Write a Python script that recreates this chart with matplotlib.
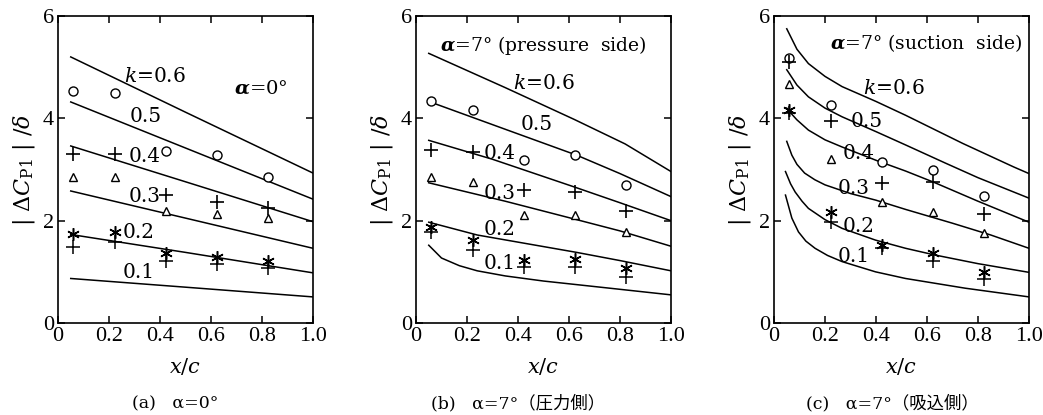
import matplotlib
matplotlib.use('Agg')
import matplotlib.pyplot as plt

plt.rcParams['font.family'] = ['DejaVu Serif', 'Noto Sans CJK JP']
plt.rcParams['mathtext.fontset'] = 'dejavuserif'

# ---------------- data ----------------
x_meas = [0.06, 0.225, 0.425, 0.625, 0.825]
k_values = ["0.6", "0.5", "0.4", "0.3", "0.2", "0.1"]
x_ticks = [0, 0.2, 0.4, 0.6, 0.8, 1.0]
x_ticklabels = ["0", "0.2", "0.4", "0.6", "0.8", "1.0"]
y_ticks = [0, 2, 4, 6]

# panel (a) alpha = 0
a_curve_x = [0.05, 0.5, 1.0]
a_k06 = [5.20, 4.12, 2.93]
a_k05 = [4.32, 3.42, 2.42]
a_k04 = [3.46, 2.76, 1.98]
a_k03 = [2.58, 2.05, 1.46]
a_k02 = [1.73, 1.38, 0.98]
a_k01 = [0.87, 0.70, 0.51]
a_circle = [4.53, 4.49, 3.37, 3.28, 2.86]
a_plus = [3.30, 3.30, 2.50, 2.37, 2.24]
a_tri = [2.86, 2.86, 2.19, 2.14, 2.06]
a_star = [1.73, 1.78, 1.36, 1.29, 1.22]
a_plus_low = [1.49, 1.58, 1.22, 1.16, 1.07]

# panel (b) alpha = 7 deg, pressure side
b_k06_x = [0.05, 0.35, 0.62, 0.82, 1.0]
b_k06 = [5.27, 4.60, 3.98, 3.50, 2.96]
b_k05_x = [0.05, 0.37, 0.63, 0.80, 1.0]
b_k05 = [4.33, 3.75, 3.28, 2.92, 2.47]
b_k04_x = [0.05, 0.30, 0.62, 0.80, 1.0]
b_k04 = [3.57, 3.20, 2.66, 2.35, 2.00]
b_k03_x = [0.05, 0.35, 0.63, 0.80, 1.0]
b_k03 = [2.74, 2.38, 2.02, 1.80, 1.50]
b_k02_x = [0.05, 0.24, 0.63, 0.80, 1.0]
b_k02 = [1.97, 1.72, 1.38, 1.22, 1.02]
b_k01_x = [0.05, 0.10, 0.17, 0.24, 0.35, 0.50, 0.76, 1.0]
b_k01 = [1.52, 1.27, 1.12, 1.02, 0.92, 0.82, 0.68, 0.55]
b_circle = [4.33, 4.17, 3.18, 3.28, 2.70]
b_plus = [3.38, 3.35, 2.60, 2.56, 2.19]
b_tri = [2.86, 2.76, 2.11, 2.11, 1.78]
b_star = [1.88, 1.62, 1.23, 1.26, 1.07]
b_plus_low = [1.78, 1.43, 1.10, 1.10, 0.90]

# panel (c) alpha = 7 deg, suction side
c_k06_x = [0.05, 0.09, 0.135, 0.20, 0.267, 0.40, 0.516, 0.74, 0.94, 1.0]
c_k06 = [5.75, 5.35, 5.07, 4.82, 4.62, 4.33, 4.06, 3.51, 3.05, 2.92]
c_k05_x = [0.05, 0.09, 0.135, 0.20, 0.267, 0.40, 0.516, 0.67, 0.80, 1.0]
c_k05 = [4.95, 4.65, 4.42, 4.20, 4.03, 3.74, 3.48, 3.13, 2.84, 2.44]
c_k04_x = [0.05, 0.07, 0.09, 0.135, 0.20, 0.267, 0.40, 0.516, 0.627, 0.80, 1.0]
c_k04 = [4.20, 4.08, 3.97, 3.77, 3.58, 3.44, 3.18, 2.97, 2.75, 2.38, 1.97]
c_k03_x = [0.05, 0.07, 0.09, 0.12, 0.16, 0.20, 0.30, 0.40, 0.516, 0.70, 0.85, 1.0]
c_k03 = [3.55, 3.28, 3.10, 2.93, 2.80, 2.70, 2.53, 2.40, 2.22, 1.95, 1.72, 1.46]
c_k02_x = [0.045, 0.065, 0.083, 0.11, 0.135, 0.20, 0.267, 0.398, 0.516, 0.63, 0.80, 1.0]
c_k02 = [2.96, 2.72, 2.56, 2.38, 2.24, 2.02, 1.85, 1.62, 1.46, 1.33, 1.16, 0.99]
c_k01_x = [0.045, 0.07, 0.096, 0.125, 0.161, 0.21, 0.267, 0.398, 0.516, 0.75, 1.0]
c_k01 = [2.50, 2.05, 1.78, 1.60, 1.46, 1.32, 1.20, 1.00, 0.87, 0.68, 0.51]
c_circle = [5.17, 4.27, 3.14, 3.00, 2.48]
c_plus = [5.10, 3.95, 2.73, 2.76, 2.14]
c_tri = [4.68, 3.20, 2.37, 2.17, 1.75]
c_star = [4.16, 2.17, 1.52, 1.37, 1.00]
c_plus_low = [4.10, 1.98, 1.46, 1.22, 0.86]

panels = [
    dict(curves=[(a_curve_x, a_k06), (a_curve_x, a_k05), (a_curve_x, a_k04),
                 (a_curve_x, a_k03), (a_curve_x, a_k02), (a_curve_x, a_k01)],
         pts=[a_circle, a_plus, a_tri, a_star, a_plus_low],
         title=r'$\mathbfit{\alpha}$=0°',
         caption='(a)   α=0°'),
    dict(curves=[(b_k06_x, b_k06), (b_k05_x, b_k05), (b_k04_x, b_k04),
                 (b_k03_x, b_k03), (b_k02_x, b_k02), (b_k01_x, b_k01)],
         pts=[b_circle, b_plus, b_tri, b_star, b_plus_low],
         title=r'$\mathbfit{\alpha}$=7° (pressure  side)',
         caption='(b)   α=7°（圧力側）'),
    dict(curves=[(c_k06_x, c_k06), (c_k05_x, c_k05), (c_k04_x, c_k04),
                 (c_k03_x, c_k03), (c_k02_x, c_k02), (c_k01_x, c_k01)],
         pts=[c_circle, c_plus, c_tri, c_star, c_plus_low],
         title=r'$\mathbfit{\alpha}$=7° (suction  side)',
         caption='(c)   α=7°（吸込側）'),
]

# ---------------- layout / style ----------------
W, H = 1043, 415
fig = plt.figure(figsize=(W / 100, H / 100), dpi=100)
lefts = [58, 416, 774]
ax_w, ax_bottom, ax_top = 255, 323, 16

k_label_pos = [
    [(0.26, 4.81), (0.28, 4.03), (0.275, 3.26), (0.275, 2.47), (0.255, 1.76), (0.255, 0.98)],
    [(0.38, 4.68), (0.41, 3.87), (0.265, 3.32), (0.265, 2.54), (0.265, 1.82), (0.265, 1.17)],
    [(0.35, 4.59), (0.30, 3.93), (0.27, 3.32), (0.25, 2.63), (0.27, 1.88), (0.25, 1.29)],
]
title_pos = [(0.69, 4.59, 'left'), (0.095, 5.43, 'left'), (0.975, 5.47, 'right')]
caption_x = [0.46, 0.40, 0.465]

marker_styles = [
    dict(marker='o', ms=6.5, mfc='white', mec='black', mew=1.0),
    dict(marker='+', ms=10, mec='black', mew=1.2),
    dict(marker='^', ms=5.5, mfc='white', mec='black', mew=1.0),
    dict(marker=(6, 2, 0), ms=9, mec='black', mew=1.1),
    dict(marker='+', ms=10, mec='black', mew=1.1),
]

for i, p in enumerate(panels):
    ax = fig.add_axes([lefts[i] / W, (H - ax_bottom) / H, ax_w / W, (ax_bottom - ax_top) / H])
    for (cx, cy) in p['curves']:
        ax.plot(cx, cy, color='black', lw=1.1)
    for ys, st in zip(p['pts'], marker_styles):
        ax.plot(x_meas, ys, linestyle='none', zorder=3, **st)
    for j, (kv, (lx, ly)) in enumerate(zip(k_values, k_label_pos[i])):
        txt = (r'$k$=' + kv) if j == 0 else kv
        ax.text(lx, ly, txt, fontsize=14.5, ha='left', va='center')
    tx, ty, tha = title_pos[i]
    ax.text(tx, ty, p['title'], fontsize=13.5 if i else 14, ha=tha, va='center')

    ax.set_xlim(0, 1.0)
    ax.set_ylim(0, 6)
    ax.set_xticks(x_ticks)
    ax.set_xticklabels(x_ticklabels)
    ax.set_yticks(y_ticks)
    ax.tick_params(direction='in', length=5, width=1.1, top=True, right=True,
                   labelsize=16, pad=3)
    for lab in ax.get_xticklabels() + ax.get_yticklabels():
        lab.set_family('Liberation Serif')
    for s in ax.spines.values():
        s.set_linewidth(1.2)
    ax.text(-0.135, 0.5, r'$|\ \mathit{\Delta C}_{\mathrm{P1}}\ |\ /\delta$',
            transform=ax.transAxes, rotation=90, fontsize=16, ha='center', va='center')
    ax.text(0.5, -0.143, r'$x/c$', transform=ax.transAxes, fontsize=15,
            ha='center', va='center')
    ax.text(caption_x[i], -0.262, p['caption'], transform=ax.transAxes, fontsize=12.5,
            ha='center', va='center', family=['DejaVu Serif', 'Noto Sans CJK JP'])

fig.savefig('out.png', dpi=100)
